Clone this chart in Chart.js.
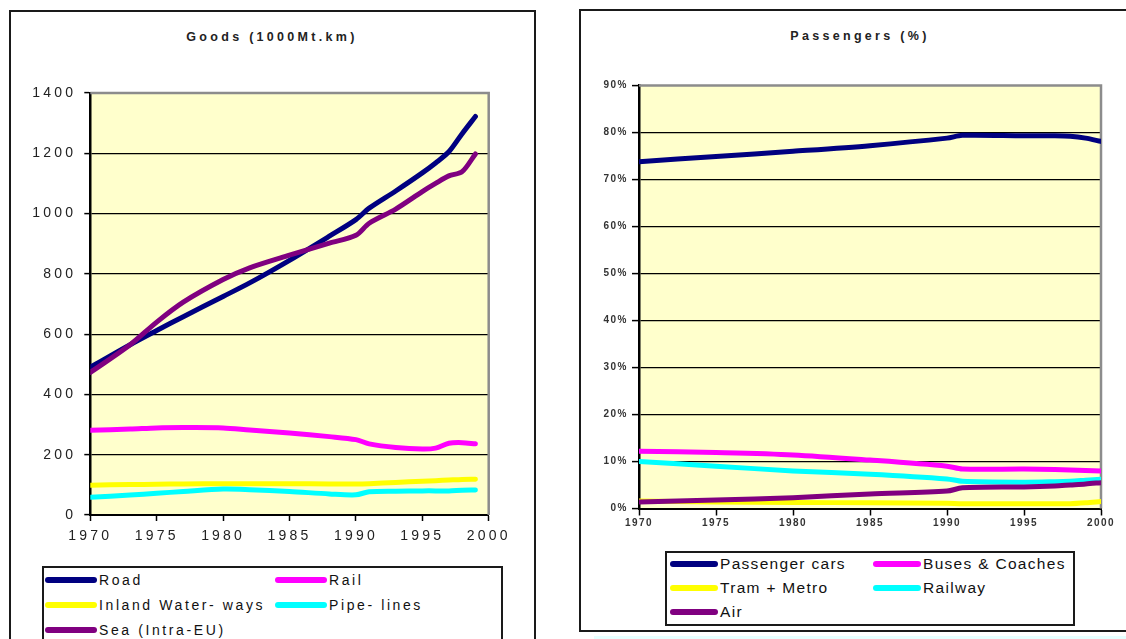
<!DOCTYPE html>
<html>
<head>
<meta charset="utf-8">
<script src="https://cdn.jsdelivr.net/npm/chart.js@4/dist/chart.umd.min.js"></script>
<style>
  html, body { margin: 0; padding: 0; background: #fff; width: 1126px; height: 639px; overflow: hidden;
    font-family: "Liberation Sans", Arial, sans-serif; }
  .panel { position: absolute; border: 2px solid #1a1a1a; box-sizing: border-box; }
  #goodsPanel { left: 9px; top: 10px; width: 527px; height: 700px; }
  #passPanel { left: 579px; top: 9px; width: 620px; height: 623px; }
  .title { position: absolute; font-weight: bold; font-size: 12.5px; letter-spacing: 3.3px; color: #222;
    white-space: nowrap; transform: translate(-50%, -50%); }
  canvas { position: absolute; }
  .legend { position: absolute; border: 2px solid #1a1a1a; box-sizing: border-box; background: #fff; }
  .item { position: absolute; display: flex; align-items: center; white-space: nowrap; color: #111; height: 20px; }
  .swatch { height: 6px; border-radius: 3px; margin-right: 2px; }
  #strip { position: absolute; left: 594px; top: 636px; width: 532px; height: 3px; background: #e6ffff; }
</style>
</head>
<body>
<div id="goodsPanel" class="panel"></div>
<div id="passPanel" class="panel"></div>
<div id="strip"></div>
<div class="title" style="left:272px; top:37px;">Goods (1000Mt.km)</div>
<div class="title" style="left:860px; top:36px;">Passengers (%)</div>
<canvas id="goods" width="560" height="560" style="left:0; top:0; width:560px; height:560px;"></canvas>
<canvas id="pass" width="556" height="560" style="left:570px; top:0; width:556px; height:560px;"></canvas>
<div class="legend" style="left:42px; top:566px; width:461px; height:120px;"></div>
<div class="legend" style="left:665px; top:551px; width:410px; height:75px;"></div>
<div id="legendItems"></div>

<script>
// Goods transport, 1000 Mt.km
const goodsYears = [1970, 1973, 1975, 1977, 1980, 1982, 1985, 1988, 1990, 1991, 1993, 1995, 1996, 1997, 1998, 1999];
const road      = [490, 565, 612, 658, 725, 770, 845, 925, 980, 1018, 1075, 1135, 1168, 1205, 1265, 1322];
const rail      = [281, 285, 289, 290, 289, 282, 272, 260, 250, 236, 224, 219, 222, 238, 240, 236];
const inland    = [99, 101, 102, 103, 104, 104, 104, 103, 103, 104, 108, 112, 114, 116, 118, 119];
const pipelines = [59, 66, 72, 78, 86, 84, 78, 70, 67, 77, 79, 80, 80, 80, 82, 83];
const sea       = [473, 565, 640, 706, 781, 820, 862, 902, 928, 968, 1015, 1073, 1100, 1125, 1139, 1198];
const goodsLabels = ["Road", "Rail", "Inland Water- ways", "Pipe- lines", "Sea (Intra-EU)"];
const goodsTicksY = [0, 200, 400, 600, 800, 1000, 1200, 1400];

// Passenger transport, share in %
const passYears = [1970, 1975, 1980, 1985, 1990, 1991, 1995, 1997, 1998, 1999, 2000];
const cars    = [73.8, 74.9, 76.0, 77.2, 78.8, 79.4, 79.3, 79.3, 79.2, 78.8, 78.1];
const buses   = [12.2, 11.9, 11.4, 10.3, 9.0, 8.4, 8.4, 8.3, 8.2, 8.1, 8.0];
const tram    = [1.6, 1.4, 1.3, 1.2, 1.1, 1.0, 1.0, 1.0, 1.0, 1.2, 1.5];
const railway = [10.0, 9.0, 8.0, 7.3, 6.3, 5.8, 5.6, 5.7, 5.8, 6.0, 6.2];
const air     = [1.4, 1.8, 2.3, 3.1, 3.7, 4.4, 4.6, 4.8, 5.0, 5.2, 5.5];
const passLabels = ["Passenger cars", "Buses & Coaches", "Tram + Metro", "Railway", "Air"];
const passTicksY = [0, 10, 20, 30, 40, 50, 60, 70, 80, 90];

const NAVY = "#000080", MAGENTA = "#FF00FF", YELLOW = "#FFFF00", CYAN = "#00FFFF", PURPLE = "#800080";

function pts(xs, ys) { return xs.map((x, i) => ({ x, y: ys[i] })); }

function spacing(px) {
  return {
    id: "letterSpacing",
    beforeUpdate(c) { c.ctx.letterSpacing = px + "px"; },
    beforeDraw(c) { c.ctx.letterSpacing = px + "px"; }
  };
}

// pale plot background plus grey frame on the top and right sides
const plotFrame = {
  id: "plotFrame",
  beforeDraw(c) {
    const a = c.chartArea, ctx = c.ctx;
    ctx.save();
    ctx.fillStyle = "#FFFFCC";
    ctx.fillRect(a.left, a.top, a.right - a.left, a.bottom - a.top);
    ctx.restore();
  },
  beforeDatasetsDraw(c) {
    const a = c.chartArea, ctx = c.ctx;
    ctx.save();
    ctx.strokeStyle = "#8c8c8c";
    ctx.lineWidth = 2.5;
    ctx.beginPath();
    ctx.moveTo(a.left, a.top);
    ctx.lineTo(a.right, a.top);
    ctx.lineTo(a.right, a.bottom);
    ctx.stroke();
    ctx.restore();
  }
};

function makeChart(id, cfg) {
  const ds = cfg.series.map(s => ({
    label: s.label, data: pts(cfg.years, s.values), borderColor: s.color, backgroundColor: s.color,
    borderWidth: cfg.lineWidth, pointRadius: 0, tension: 0.3, borderCapStyle: "round", borderJoinStyle: "round", fill: false
  }));
  const yMax = cfg.ticksY[cfg.ticksY.length - 1];
  return new Chart(document.getElementById(id), {
    type: "line",
    data: { datasets: ds.slice().reverse() },
    options: {
      responsive: false, animation: false, devicePixelRatio: 1,
      layout: { padding: cfg.padding },
      plugins: { legend: { display: false }, tooltip: { enabled: false }, title: { display: false } },
      scales: {
        x: {
          type: "linear", min: 1970, max: 2000,
          afterFit(s) { s.height = cfg.xHeight; },
          grid: { drawOnChartArea: false, drawTicks: true, tickLength: cfg.tickLen, tickColor: "#000", tickWidth: 1.5 },
          border: { display: true, color: "#000", width: 2 },
          ticks: { stepSize: 5, autoSkip: false, maxRotation: 0, callback: v => String(v),
            font: cfg.tickFont, color: cfg.tickColor, padding: cfg.xPad }
        },
        y: {
          min: 0, max: yMax,
          afterFit(s) { s.width = cfg.yWidth; },
          afterBuildTicks(s) { s.ticks = cfg.ticksY.map(v => ({ value: v })); },
          grid: { color: c => (c.tick && c.tick.value === yMax) ? "rgba(0,0,0,0)" : "#000",
            lineWidth: 1.2, drawTicks: true, tickLength: cfg.tickLen, tickColor: "#000", tickWidth: 1.5 },
          border: { display: true, color: "#000", width: 2.5 },
          ticks: { callback: cfg.yFmt, font: cfg.tickFont, color: cfg.tickColor, padding: cfg.yPad }
        }
      }
    },
    plugins: [spacing(cfg.spacing), plotFrame]
  });
}

const goodsSeries = [
  { label: goodsLabels[0], values: road, color: NAVY },
  { label: goodsLabels[1], values: rail, color: MAGENTA },
  { label: goodsLabels[2], values: inland, color: YELLOW },
  { label: goodsLabels[3], values: pipelines, color: CYAN },
  { label: goodsLabels[4], values: sea, color: PURPLE }
];
const passSeries = [
  { label: passLabels[0], values: cars, color: NAVY },
  { label: passLabels[1], values: buses, color: MAGENTA },
  { label: passLabels[2], values: tram, color: YELLOW },
  { label: passLabels[3], values: railway, color: CYAN },
  { label: passLabels[4], values: air, color: PURPLE }
];

makeChart("goods", {
  years: goodsYears, series: goodsSeries, ticksY: goodsTicksY, lineWidth: 5,
  padding: { left: 0, top: 93, right: 71.3, bottom: 15 },
  yWidth: 90.3, xHeight: 30, tickLen: 6, xPad: 7, yPad: 8,
  tickFont: { family: "'Liberation Sans', Arial, sans-serif", size: 14 }, tickColor: "#222", spacing: 3.2,
  yFmt: v => String(v)
});

makeChart("pass", {
  years: passYears, series: passSeries, ticksY: passTicksY, lineWidth: 5,
  padding: { left: 0, top: 85.5, right: 25, bottom: 31.5 },
  yWidth: 69, xHeight: 20, tickLen: 7, xPad: 2, yPad: 4,
  tickFont: { family: "'Liberation Sans', Arial, sans-serif", size: 10, weight: "bold" }, tickColor: "#333", spacing: 1.5,
  yFmt: v => v + "%"
});

// Legends: swatch line followed by the series name, two columns
function legend(series, spec) {
  const host = document.getElementById("legendItems");
  series.forEach((s, i) => {
    const col = i % 2, row = Math.floor(i / 2);
    const el = document.createElement("div");
    el.className = "item";
    el.style.left = spec.cols[col] + "px";
    el.style.top = (spec.rows[row] - 10) + "px";
    el.style.fontSize = spec.font + "px";
    el.style.letterSpacing = spec.ls + "px";
    const sw = document.createElement("div");
    sw.className = "swatch";
    sw.style.width = spec.sw + "px";
    sw.style.background = s.color;
    const tx = document.createElement("span");
    tx.textContent = s.label;
    el.appendChild(sw); el.appendChild(tx);
    host.appendChild(el);
  });
}
legend(goodsSeries, { cols: [45, 275], rows: [580, 605, 630], font: 14, ls: 2.6, sw: 52 });
legend(passSeries, { cols: [670, 873], rows: [564, 588, 612], font: 15.5, ls: 1.3, sw: 48 });
</script>
</body>
</html>
